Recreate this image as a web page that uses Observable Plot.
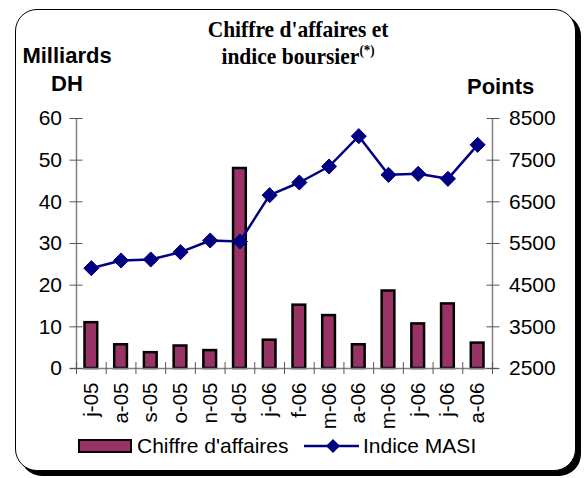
<!DOCTYPE html>
<html>
<head>
<meta charset="utf-8">
<script src="https://cdn.jsdelivr.net/npm/d3@7"></script>
<script src="https://cdn.jsdelivr.net/npm/@observablehq/plot@0.6"></script>
<style>
  html, body { margin: 0; padding: 0; background: #fff; }
  #wrap { position: relative; width: 586px; height: 478px; overflow: hidden; font-family: "Liberation Sans", Arial, sans-serif; color: #000; }
  #frame { position: absolute; left: 15px; top: 9px; width: 561px; height: 462px; box-sizing: border-box;
           border: 1.5px solid #000; border-radius: 22px; box-shadow: 5px 5px 0 #000; background: #fff; }
  #chart { position: absolute; left: 0; top: 0; }
  .t { position: absolute; white-space: nowrap; }
  #title { left: 150px; width: 296px; top: 16px; text-align: center; font-family: "Liberation Serif", "Times New Roman", serif;
           font-weight: bold; font-size: 21.5px; line-height: 25px; transform: scale(1, 1.1); transform-origin: 50% 0; }
  #title sup { font-size: 13px; vertical-align: 9px; line-height: 0; }
  #ylab { left: 17px; width: 100px; top: 42.4px; text-align: center; font-weight: bold; font-size: 22px; line-height: 28px; }
  #y2lab { left: 467px; top: 73.4px; font-weight: bold; font-size: 22px; line-height: 28px; }
  #legend { left: 0; top: 435px; height: 21px; width: 586px; font-size: 21px; line-height: 21px; }
  .sw-bar { position: absolute; left: 78px; top: 4px; width: 54px; height: 14px; box-sizing: border-box; background: #993366; border: 2.5px solid #000; }
  .lt1 { position: absolute; left: 137px; top: 0; }
  .sw-line { position: absolute; left: 304px; top: 0; }
  .lt2 { position: absolute; left: 363px; top: 0; }
</style>
</head>
<body>
<div id="wrap">
  <div id="frame"></div>
  <div id="chart"></div>
  <div id="title" class="t">Chiffre d'affaires et<br>indice boursier<sup>(*)</sup></div>
  <div id="ylab" class="t">Milliards<br>DH</div>
  <div id="y2lab" class="t">Points</div>
  <div id="legend" class="t">
    <div class="sw-bar"></div>
    <div class="lt1">Chiffre d'affaires</div>
    <svg class="sw-line" width="56" height="21"><line x1="0" x2="55" y1="11" y2="11" stroke="#000080" stroke-width="2.5"/><path d="M29,4 L36,11 L29,18 L22,11 Z" fill="#000080"/></svg>
    <div class="lt2">Indice MASI</div>
  </div>
</div>
<script>
// Data
const months = ["j-05","a-05","s-05","o-05","n-05","d-05","j-06","f-06","m-06","a-06","m-06","j-06","j-06","a-06"];
const chiffreAffaires = [11.0, 5.7, 3.8, 5.4, 4.3, 48.0, 6.8, 15.2, 12.7, 5.7, 18.6, 10.7, 15.5, 6.1];
const indiceMasi = [4908, 5092, 5116, 5292, 5572, 5548, 6660, 6964, 7348, 8076, 7148, 7172, 7052, 7868];
const leftTicks = [0, 10, 20, 30, 40, 50, 60];
const rightTicks = [2500, 3500, 4500, 5500, 6500, 7500, 8500];

// right axis 2500..8500 mapped onto left axis 0..60
const toLeft = v => (v - 2500) / 100;

const rows = months.map((m, i) => ({i, m, ca: chiffreAffaires[i], masi: indiceMasi[i]}));
const bandEdges = d3.range(months.length + 1);
const bandCenters = months.map((_, i) => i + 0.5);

const plot = Plot.plot({
  width: 586,
  height: 478,
  marginLeft: 76,
  marginRight: 94,
  marginTop: 118,
  marginBottom: 110,
  style: {fontFamily: "'Liberation Sans', Arial, sans-serif", fontSize: "21px", color: "#000", background: "transparent", overflow: "visible"},
  x: {type: "linear", domain: [0, months.length]},
  y: {domain: [0, 60]},
  marks: [
    Plot.rectY(rows, {x1: d => d.i, x2: d => d.i + 1, y: "ca", fill: "#993366", stroke: "#000", strokeWidth: 2.5, insetLeft: 8.5, insetRight: 8.5}),
    Plot.ruleX([0, months.length], {stroke: "#808080", strokeWidth: 1.5}),
    Plot.ruleY([0], {stroke: "#808080", strokeWidth: 1.5, insetLeft: -6, insetRight: -6}),
    Plot.line(rows, {x: d => d.i + 0.5, y: d => toLeft(d.masi), stroke: "#000080", strokeWidth: 2.5}),
    Plot.dot(rows, {x: d => d.i + 0.5, y: d => toLeft(d.masi), symbol: "diamond2", r: 6.8, fill: "#000080", stroke: "#000080", strokeWidth: 1}),
    Plot.axisY({ticks: leftTicks, tickSize: 13, dx: 6.5, tickPadding: 8, stroke: "#555", fontSize: 21, label: null}),
    Plot.axisY({anchor: "right", ticks: rightTicks.map(toLeft), tickFormat: (d, k) => String(rightTicks[k]), tickSize: 13, dx: -6.5, tickPadding: 10, stroke: "#555", fontSize: 21, label: null}),
    Plot.axisX({ticks: bandEdges, tickSize: 12, dy: -6, tickFormat: () => "", stroke: "#555", label: null}),
    Plot.axisX({ticks: bandCenters, tickSize: 0, tickPadding: 14, tickRotate: -90, tickFormat: (d, k) => months[k], fontSize: 20.5, label: null})
  ]
});
document.getElementById("chart").appendChild(plot);
</script>
</body>
</html>
